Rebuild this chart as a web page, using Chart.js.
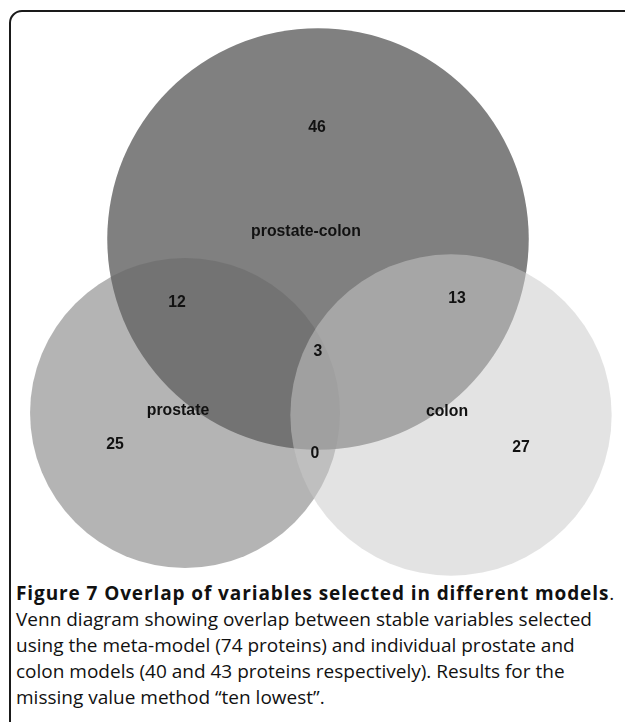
<!DOCTYPE html>
<html>
<head>
<meta charset="utf-8">
<script src="https://cdn.jsdelivr.net/npm/chart.js@4/dist/chart.umd.min.js"></script>
<style>
    html, body {
        margin: 0;
        padding: 0;
        width: 625px;
        height: 722px;
        overflow: hidden;
        background: #fff;
    }
    #frame {
        position: absolute;
        left: 9px;
        top: 10px;
        width: 720px;
        height: 800px;
        border: 2px solid #1a1a1a;
        border-radius: 13px;
        box-sizing: border-box;
    }
    #wrap {
        position: absolute;
        left: 0;
        top: 0;
        width: 625px;
        height: 580px;
    }
    #caption {
        position: absolute;
        left: 16px;
        top: 580px;
        width: 609px;
        font-family: "Open Sans", "Noto Sans", sans-serif;
        font-size: 19px;
        line-height: 26px;
        color: #111;
        white-space: nowrap;
    }
    #caption b {
        font-weight: 700;
        letter-spacing: 0.9px;
    }
</style>
</head>
<body>
<div id="frame"></div>
<div id="wrap"><canvas id="vennChart"></canvas></div>
<div id="caption">
    <b>Figure 7 Overlap of variables selected in different models</b>.<br>
    Venn diagram showing overlap between stable variables selected<br>
    using the meta-model (74 proteins) and individual prostate and<br>
    colon models (40 and 43 proteins respectively). Results for the<br>
    missing value method “ten lowest”.
</div>

<script>
// sets: meta-model, prostate, colon (sizes from the caption)
const setNames = ['prostate-colon', 'prostate', 'colon'];
const setSizes = [74, 40, 43];
const setX = [318, 185, 451];
const setY = [239, 413, 415];
const nameX = [306, 178, 447];
const nameY = [231, 410, 411];

// region counts and where they sit
const regionCounts = [46, 12, 13, 3, 25, 0, 27];
const regionX = [317, 177, 457, 318, 115, 315, 521];
const regionY = [127, 302, 298, 351, 444, 453, 447];

const setColors = ['#808080', 'rgba(101,101,101,0.49)', 'rgba(201,201,201,0.52)'];
const pxPerRoot = 24.5; // circle area follows set size

let points = [];
for (let i = 0; i < setSizes.length; i++) {
    points.push({ x: setX[i], y: setY[i], r: Math.sqrt(setSizes[i]) * pxPerRoot });
}

// the labels in the original are a narrow bold face, so squeeze a bit
function drawNarrow(ctx, text, px, py) {
    ctx.save();
    ctx.translate(px, py);
    ctx.scale(0.93, 1);
    ctx.fillText(text, 0, 0);
    ctx.restore();
}

const vennLabels = {
    id: 'vennLabels',
    afterDatasetsDraw(chart) {
        const ctx = chart.ctx;
        const xs = chart.scales.x;
        const ys = chart.scales.y;
        ctx.save();
        ctx.font = 'bold 17px "Liberation Sans", Arial, sans-serif';
        ctx.fillStyle = '#111';
        ctx.textAlign = 'center';
        ctx.textBaseline = 'middle';
        for (let i = 0; i < setNames.length; i++)
            drawNarrow(ctx, setNames[i], xs.getPixelForValue(nameX[i]), ys.getPixelForValue(nameY[i]));
        for (let i = 0; i < regionCounts.length; i++)
            drawNarrow(ctx, String(regionCounts[i]), xs.getPixelForValue(regionX[i]), ys.getPixelForValue(regionY[i]));
        ctx.restore();
    }
};

new Chart(document.getElementById('vennChart'), {
    type: 'bubble',
    data: {
        labels: setNames,
        datasets: [{
            label: 'sets',
            data: points,
            backgroundColor: setColors,
            borderWidth: 0,
            hoverRadius: 0,
            hoverBorderWidth: 0,
            clip: false
        }]
    },
    options: {
        responsive: true,
        maintainAspectRatio: false,
        animation: false,
        events: [],
        layout: { padding: 0, autoPadding: false },
        plugins: {
            legend: { display: false },
            tooltip: { enabled: false }
        },
        scales: {
            x: { type: 'linear', min: 0, max: 625, display: false },
            y: { type: 'linear', min: 0, max: 580, reverse: true, display: false }
        }
    },
    plugins: [vennLabels]
});
</script>
</body>
</html>
